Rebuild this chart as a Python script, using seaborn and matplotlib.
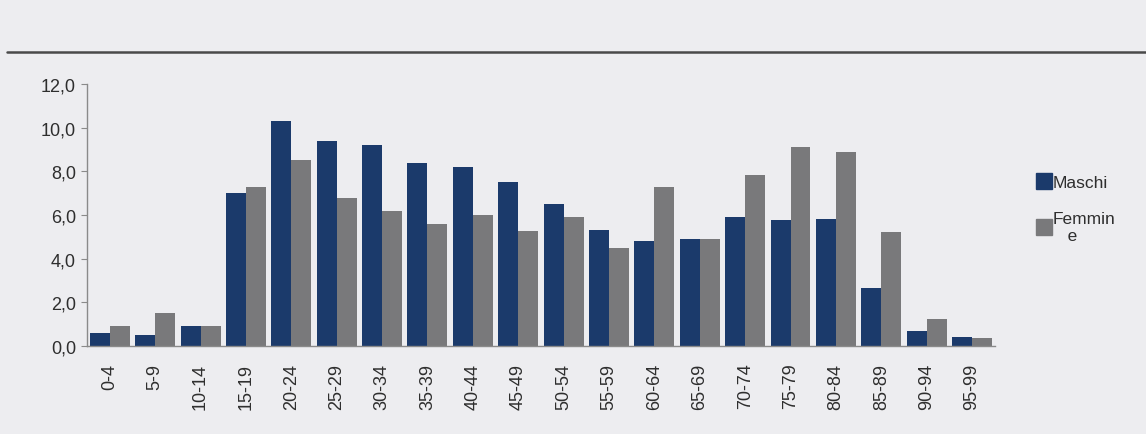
import matplotlib
matplotlib.use("Agg")
import matplotlib.pyplot as plt
import seaborn as sns
import pandas as pd
from matplotlib.lines import Line2D
from matplotlib.ticker import FuncFormatter

categories = ["0-4", "5-9", "10-14", "15-19", "20-24", "25-29", "30-34", "35-39",
              "40-44", "45-49", "50-54", "55-59", "60-64", "65-69", "70-74",
              "75-79", "80-84", "85-89", "90-94", "95-99"]
maschi = [0.6, 0.5, 0.9, 7.0, 10.3, 9.4, 9.2, 8.4, 8.2, 7.5, 6.5, 5.3, 4.8,
          4.9, 5.9, 5.75, 5.8, 2.65, 0.7, 0.4]
femmine = [0.9, 1.5, 0.9, 7.3, 8.5, 6.8, 6.2, 5.6, 6.0, 5.25, 5.9, 4.5, 7.3,
           4.9, 7.85, 9.1, 8.9, 5.2, 1.25, 0.35]
series_names = ["Maschi", "Femmine"]
legend_labels = ["Maschi", "Femmin\n   e"]
yticks = [0, 2, 4, 6, 8, 10, 12]

df = pd.DataFrame({
    "cls": categories * 2,
    "val": maschi + femmine,
    "sex": [series_names[0]] * len(categories) + [series_names[1]] * len(categories),
})

sns.set_theme(style="white")
plt.rcParams["font.family"] = ["Liberation Sans", "DejaVu Sans"]

bg = "#ededf0"
fig = plt.figure(figsize=(11.46, 4.35), dpi=100, facecolor=bg)
ax = fig.add_axes([0.076, 0.2023, 0.792, 0.6023])
ax.set_facecolor(bg)

palette = {"Maschi": "#1b3a6b", "Femmine": "#79797b"}
sns.barplot(data=df, x="cls", y="val", hue="sex", order=categories,
            hue_order=series_names, palette=palette, width=0.88,
            saturation=1, linewidth=0, ax=ax, legend=False)

ax.set_xlim(-0.5, len(categories) - 0.5)
ax.set_ylim(0, 12)
ax.set_yticks(yticks)
ax.yaxis.set_major_formatter(FuncFormatter(lambda v, p: f"{v:.1f}".replace(".", ",")))
ax.set_xlabel("")
ax.set_ylabel("")

for s in ["top", "right"]:
    ax.spines[s].set_visible(False)
for s in ["left", "bottom"]:
    ax.spines[s].set_color("#8a8a8a")
    ax.spines[s].set_linewidth(1.0)

ax.tick_params(axis="y", which="major", left=True, length=4, width=0.8,
               color="#8a8a8a", labelsize=13, labelcolor="#2e2e2e", pad=4)
ax.tick_params(axis="x", bottom=False, labelsize=13, labelcolor="#2e2e2e",
               rotation=90, pad=6)

handles = [plt.Rectangle((0, 0), 1, 1, color=palette[n]) for n in series_names]
leg = fig.legend(handles, legend_labels, loc="upper left",
                 bbox_to_anchor=(0.898, 0.615), frameon=False,
                 fontsize=12.5, handlelength=0.9, handleheight=1.0,
                 handletextpad=0.05, labelspacing=1.2, borderaxespad=0)
for t in leg.get_texts():
    t.set_color("#2e2e2e")

fig.add_artist(Line2D([0.006, 1.0], [1 - 53 / 435, 1 - 53 / 435],
                      color="#4a4a4a", linewidth=1.8, transform=fig.transFigure))

fig.savefig("out.png", dpi=100, facecolor=bg)
